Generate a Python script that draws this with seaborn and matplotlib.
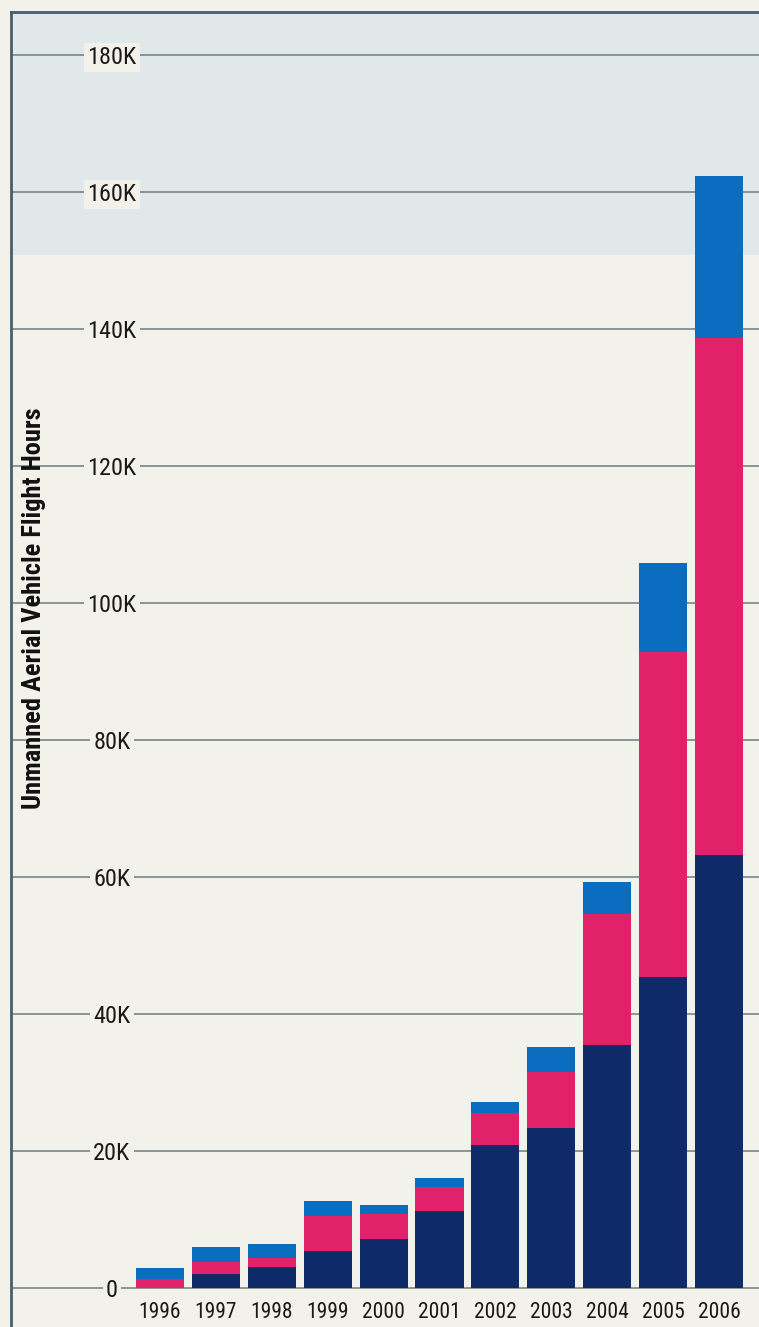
import matplotlib
matplotlib.use("Agg")
import matplotlib.pyplot as plt
from matplotlib import font_manager
import seaborn as sns
import pandas as pd
import numpy as np

years = ["1996", "1997", "1998", "1999", "2000", "2001", "2002", "2003", "2004", "2005", "2006"]
navy_vals = [0.0, 2.0, 3.1, 5.4, 7.2, 11.2, 20.9, 23.4, 35.5, 45.4, 63.2]
pink_vals = [1.3, 1.75, 1.3, 5.1, 3.6, 3.5, 4.7, 8.2, 19.1, 47.4, 75.5]
blue_vals = [1.6, 2.2, 2.0, 2.2, 1.3, 1.3, 1.5, 3.6, 4.7, 13.0, 23.6]
ytick_vals = [0, 20, 40, 60, 80, 100, 120, 140, 160, 180]
ytick_labels = ["0", "20K", "40K", "60K", "80K", "100K", "120K", "140K", "160K", "180K"]
ylabel = "Unmanned Aerial Vehicle Flight Hours"

NAVY = "#0f2a68"
PINK = "#e2216b"
BLUE = "#0a6dbf"
BG = "#f3f2ea"
BAND = "#e1e8ea"
GRID = "#6f7b80"
FRAME = "#46606e"

names = {f.name for f in font_manager.fontManager.ttflist}
narrow = None
for cand in ["Liberation Sans Narrow", "DejaVu Sans Condensed", "Roboto Condensed"]:
    if cand in names:
        narrow = cand
        break
regular = "Liberation Sans" if "Liberation Sans" in names else "DejaVu Sans"
if narrow is None:
    narrow = regular

sns.set_theme(style="white")
plt.rcParams["font.family"] = [regular, "DejaVu Sans"]

df = pd.DataFrame({"year": years, "navy": navy_vals, "pink": pink_vals, "blue": blue_vals})
df["c1"] = df["navy"]
df["c2"] = df["navy"] + df["pink"]
df["c3"] = df["c2"] + df["blue"]

W, H = 759, 1327
fig = plt.figure(figsize=(W / 100, H / 100), dpi=100, facecolor=BG)
left_px, top_px = 11, 12
ax = fig.add_axes([left_px / W, 0, 1 - left_px / W, 1 - top_px / H])
ax.set_facecolor(BG)

px_per_k = 6.85
base_px = 1288
y_top = (base_px - top_px) / px_per_k
y_bot = -(H - base_px) / px_per_k

# light printed band at the top of the page
ax.axhspan((base_px - 255) / px_per_k, y_top, color=BAND, zorder=0, lw=0)

for col, c in [("c3", BLUE), ("c2", PINK), ("c1", NAVY)]:
    sns.barplot(data=df, x="year", y=col, color=c, saturation=1, width=0.86,
                ax=ax, zorder=3, linewidth=0)

spacing = 55.9
ax.set_xlim(-(160 - left_px) / spacing, 10 + (W - 719) / spacing)
ax.set_ylim(y_bot, y_top)

ax.set_yticks(ytick_vals)
ax.set_yticklabels(ytick_labels)
ax.yaxis.grid(True, color=GRID, linewidth=1.1, zorder=1)
ax.xaxis.grid(False)
ax.tick_params(axis="y", length=0, pad=-(112 - left_px) * 0.72, labelsize=17.5, labelcolor="#1a1a1a")
for lbl in ax.get_yticklabels():
    lbl.set_ha("center")
    lbl.set_fontfamily([narrow, "DejaVu Sans"])
    lbl.set_bbox(dict(facecolor=BG, edgecolor="none", pad=2.5))
    lbl.set_zorder(5)

ax.tick_params(axis="x", length=0, pad=-(H - 1312) * 0.72, labelsize=15.5, labelcolor="#1a1a1a")
for lbl in ax.get_xticklabels():
    lbl.set_fontfamily([narrow, "DejaVu Sans"])
    lbl.set_va("center")
    lbl.set_zorder(5)

ax.set_xlabel("")
ax.set_ylabel(ylabel, fontsize=19, fontweight="bold", family=[narrow, "DejaVu Sans"], color="#111111")
ax.yaxis.set_label_coords((46 - left_px) / (W - left_px), 1 - (608 - top_px) / (H - top_px))

for s in ["right", "bottom"]:
    ax.spines[s].set_visible(False)
for s in ["left", "top"]:
    ax.spines[s].set_visible(True)
    ax.spines[s].set_color(FRAME)
    ax.spines[s].set_linewidth(2)

fig.savefig("out.png", dpi=100, facecolor=BG)
